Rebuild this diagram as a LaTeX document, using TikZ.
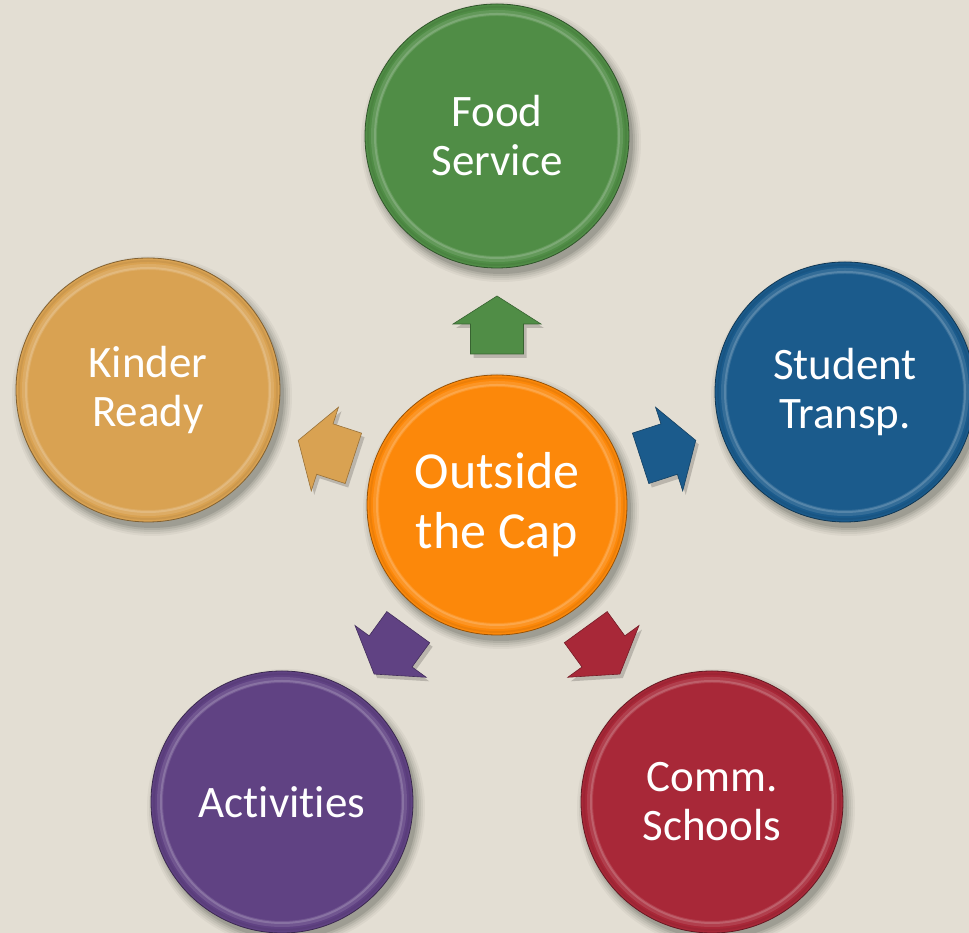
\documentclass[tikz,border=0pt]{standalone}
\usepackage{fontspec}
\setmainfont{Carlito}[Ligatures={NoCommon}]
\definecolor{bg}{RGB}{227,222,211}
\definecolor{cgreen}{RGB}{80,141,70}
\definecolor{cblue}{RGB}{27,91,140}
\definecolor{corange}{RGB}{252,136,10}
\definecolor{ctan}{RGB}{217,162,82}
\definecolor{cpurple}{RGB}{96,66,131}
\definecolor{cred}{RGB}{168,40,56}
\newcommand\mydisc[6]{%
  \foreach \s/\o in {8/0.04,6/0.05,4/0.06,2/0.08,0/0.10}{%
    \fill[black,opacity=\o] ([shift={(4,-6)}]#2) circle[radius={#4pt+\s pt}];}
  \node[disc, minimum size={2*#4pt}, fill=#3, draw=#3!60!black, font=#5] (#1) at (#2) {#6};
  \draw[#3!50!white, opacity=.22, line width=6pt] (#1.center) circle[radius={#4pt-9pt}];
  \draw[#3!40!white, opacity=.30, line width=2pt] (#1.center) circle[radius={#4pt-10pt}];
  \draw[#3!80!black, opacity=.30, line width=2pt] (#1.center) circle[radius={#4pt-3pt}];
}
\newcommand\myarrow[2]{%
  \fill[black,opacity=.18, shift={(c)}, shift={(3,-4)}, rotate=#1, shift={(180,0)}] (-29,-26.5) -- (1,-26.5) -- (1,-44) -- (29,0) -- (1,44) -- (1,26.5) -- (-29,26.5) -- cycle;
  \draw[blockarrow, fill=#2, draw=#2!70!black, shift={(c)}, rotate=#1, shift={(180,0)}] (-29,-26.5) -- (1,-26.5) -- (1,-44) -- (29,0) -- (1,44) -- (1,26.5) -- (-29,26.5) -- cycle;
}
\tikzset{
  disc/.style={circle, inner sep=0pt, line width=.8pt, text=white, align=center},
  blockarrow/.style={line width=.6pt, line join=miter},
}
\begin{document}
\begin{tikzpicture}[x=1pt,y=1pt]
\useasboundingbox (0,0) rectangle (969,933);
\fill[bg] (0,0) rectangle (969,933);
\clip (0,0) rectangle (969,933);
\coordinate (c) at (497,428);
\myarrow{90}{cgreen}
\myarrow{18}{cblue}
\myarrow{-54}{cred}
\myarrow{-126}{cpurple}
\myarrow{162}{ctan}
\mydisc{center}{497,428}{corange}{130}{\fontsize{52}{60}\selectfont}{Outside\\the Cap}
\mydisc{food}{497,797}{cgreen}{132}{\fontsize{45}{49}\selectfont}{Food\\Service}
\mydisc{student}{845,541}{cblue}{130}{\fontsize{45}{49}\selectfont}{Student\\Transp.}
\mydisc{kinder}{148,543}{ctan}{132}{\fontsize{45}{49}\selectfont}{Kinder\\Ready}
\mydisc{comm}{712,131}{cred}{131}{\fontsize{45}{49}\selectfont}{Comm.\\Schools}
\mydisc{act}{282,131}{cpurple}{131}{\fontsize{45}{49}\selectfont}{Activities}
\end{tikzpicture}
\end{document}
